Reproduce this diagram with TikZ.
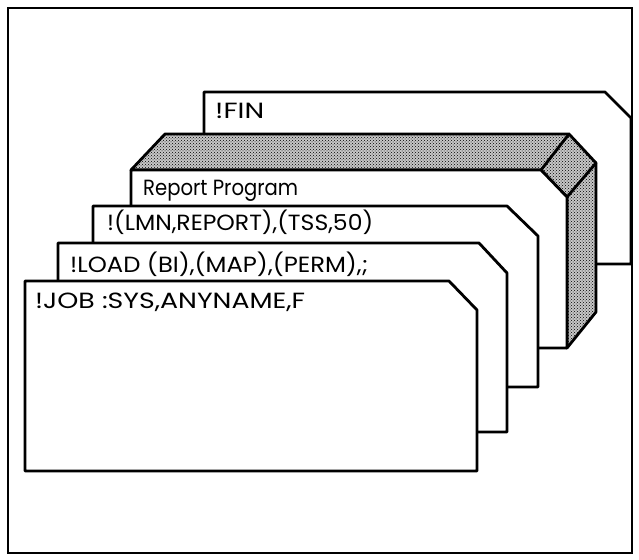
\documentclass[tikz,border=0pt]{standalone}
\usepackage{fontspec}
\setmainfont{Poppins}
\usepackage{graphicx}
\usetikzlibrary{patterns}
\newcommand\fitw[2]{\resizebox{#1pt}{\height}{#2}}
\begin{document}
\begin{tikzpicture}[x=1pt,y=-1pt]
\tikzset{
  card/.style={draw=black, line width=2.8pt, fill=white, line join=round},
  edgeline/.style={draw=black, line width=2.8pt, line cap=round},
  frame/.style={draw=black, line width=1.6pt},
  cardtext/.style={anchor=base west, inner sep=0pt, font=\fontsize{22}{26}\selectfont},
}
\useasboundingbox (0,0) rectangle (639,559);
\fill[white] (0,0) rectangle (639,559);
\draw[frame] (8,8) rectangle (632,553);
% !FIN card
\draw[card] (204,264) -- (204,92) -- (605,92) -- (631,118) -- (631,264) -- cycle;
% shaded card (3D)
\fill[white] (165,134) -- (569,134) -- (596,163) -- (596,312) -- (567,348) -- (131,348) -- (131,170) -- cycle;
\fill[black!22] (165,134) -- (569,134) -- (596,163) -- (596,312) -- (567,348) -- (567,197) -- (541,170) -- (131,170) -- cycle;
\draw[line width=2.8pt, line join=round, pattern=crosshatch dots]
  (165,134) -- (569,134) -- (596,163) -- (596,312) -- (567,348) -- (567,197) -- (541,170) -- (131,170) -- cycle;
\draw[card] (131,348) -- (131,170) -- (541,170) -- (567,197) -- (567,348) -- cycle;
\draw[edgeline] (569,134) -- (541,170);
\draw[edgeline] (596,163) -- (567,197);
% LMN card
\draw[card] (93,387) -- (93,206) -- (507,206) -- (538,236) -- (538,387) -- cycle;
% LOAD card
\draw[card] (58,432) -- (58,243) -- (479,243) -- (507,273) -- (507,432) -- cycle;
% JOB card
\draw[card] (25,471) -- (25,281) -- (449,281) -- (477,310) -- (477,471) -- cycle;
% texts
\node[cardtext] (fin) at (215,119) {\fitw{49}{!FIN}};
\node[cardtext] (rep) at (143,195) {\fitw{155}{Report Program}};
\node[cardtext] (lmn) at (107,230) {\fitw{266}{!(LMN,REPORT),(TSS,50)}};
\node[cardtext] (load) at (70,272) {\fitw{298}{!LOAD (BI),(MAP),(PERM),;}};
\node[cardtext] (job) at (35,308) {\fitw{270}{!JOB :SYS,ANYNAME,F}};
\end{tikzpicture}
\end{document}
